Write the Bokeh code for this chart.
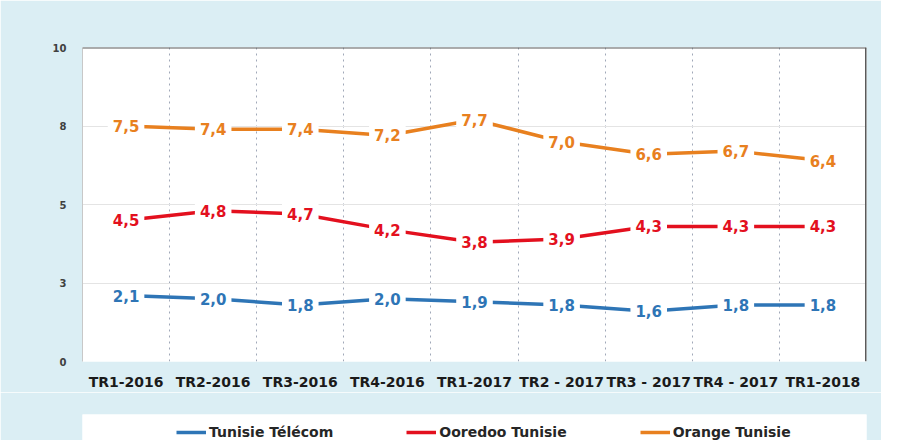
from bokeh.plotting import figure
from bokeh.layouts import column
from bokeh.models import (ColumnDataSource, FixedTicker, Span, Legend,
                          LegendItem, Range1d)
from bokeh.core.properties import value
from bokeh.embed import file_html
from bokeh.resources import INLINE

categories = ["TR1-2016", "TR2-2016", "TR3-2016", "TR4-2016", "TR1-2017",
              "TR2 - 2017", "TR3 - 2017", "TR4 - 2017", "TR1-2018"]
tunisie_telecom = [2.1, 2.0, 1.8, 2.0, 1.9, 1.8, 1.6, 1.8, 1.8]
ooredoo_tunisie = [4.5, 4.8, 4.7, 4.2, 3.8, 3.9, 4.3, 4.3, 4.3]
orange_tunisie = [7.5, 7.4, 7.4, 7.2, 7.7, 7.0, 6.6, 6.7, 6.4]
series_names = ["Tunisie Télécom", "Ooredoo Tunisie", "Orange Tunisie"]
series_colors = ["#2e75b6", "#e3101e", "#e8801f"]
y_ticks = [0, 2.5, 5, 7.5, 10]
y_tick_labels = ["0", "3", "5", "8", "10"]

FONT = "DejaVu Sans"
BG = "#dbeef4"

xs = list(range(len(categories)))

p = figure(frame_width=784, frame_height=314, output_backend="svg",
           toolbar_location=None, x_range=Range1d(-0.5, len(categories) - 0.5),
           y_range=Range1d(0, 10))
p.min_border_left = 82
p.min_border_right = 15
p.min_border_top = 47
p.min_border_bottom = 30
p.border_fill_color = BG
p.background_fill_color = "white"
p.outline_line_color = None

# axes
p.xaxis.ticker = FixedTicker(ticks=xs)
p.xaxis.major_label_overrides = {i: c for i, c in enumerate(categories)}
p.xaxis.axis_line_color = None
p.xaxis.major_tick_line_color = None
p.xaxis.minor_tick_line_color = None
p.xaxis.major_tick_in = 0
p.xaxis.major_tick_out = 0
p.xaxis.major_label_standoff = 12
p.xaxis.major_label_text_font = FONT
p.xaxis.major_label_text_font_style = "bold"
p.xaxis.major_label_text_font_size = "14px"
p.xaxis.major_label_text_color = "#1a1a1a"

p.yaxis.ticker = FixedTicker(ticks=y_ticks)
p.yaxis.major_label_overrides = {t: l for t, l in zip(y_ticks, y_tick_labels)}
p.yaxis.axis_line_color = "#c8c8c8"
p.yaxis.major_tick_line_color = None
p.yaxis.minor_tick_line_color = None
p.yaxis.major_tick_in = 0
p.yaxis.major_tick_out = 0
p.yaxis.major_label_standoff = 16
p.yaxis.major_label_text_font = FONT
p.yaxis.major_label_text_font_style = "bold"
p.yaxis.major_label_text_font_size = "10px"
p.yaxis.major_label_text_color = "#404040"

# grids
p.ygrid.ticker = FixedTicker(ticks=y_ticks)
p.ygrid.grid_line_color = "#e4e4e4"
p.xgrid.ticker = FixedTicker(ticks=[i + 0.5 for i in xs[:-1]])
p.xgrid.grid_line_color = "#a0a8b8"
p.xgrid.grid_line_dash = "2 4"
p.xgrid.grid_line_width = 1

# top and right border
p.add_layout(Span(location=10, dimension="width", line_color="#5a5a5a", line_width=2))
p.add_layout(Span(location=len(categories) - 0.5, dimension="height",
                  line_color="#5a5a5a", line_width=3))

for vals, col in zip([tunisie_telecom, ooredoo_tunisie, orange_tunisie], series_colors):
    src = ColumnDataSource(dict(x=xs, y=vals,
                                lbl=[f"{v:.1f}".replace(".", ",") for v in vals]))
    p.line("x", "y", source=src, line_color=col, line_width=3.5)
    p.text("x", "y", text="lbl", source=src,
           text_align="center", text_baseline="middle",
           text_font=value(FONT), text_font_style="bold",
           text_font_size="15px", text_color=col,
           background_fill_color="white", padding=5)

# legend strip: its white frame is the legend box
lg = figure(frame_width=784, frame_height=26, output_backend="svg",
            toolbar_location=None, x_axis_type=None, y_axis_type=None,
            x_range=Range1d(0, 1), y_range=Range1d(0, 1))
lg.min_border_left = 82
lg.min_border_right = 15
lg.min_border_top = 22
lg.min_border_bottom = 0
lg.border_fill_color = BG
lg.background_fill_color = "white"
lg.outline_line_color = None
lg.xgrid.visible = False
lg.ygrid.visible = False

items = []
for name, col in zip(series_names, series_colors):
    # legend key only: a single undefined point, nothing is drawn in the strip
    r = lg.line(x=[float("nan")], y=[float("nan")], line_color=col, line_width=3.5)
    items.append(LegendItem(label=name, renderers=[r]))

legend = Legend(items=items, orientation="horizontal", location=(94, 0),
                label_text_font=FONT, label_text_font_style="bold",
                label_text_font_size="14px", label_text_color="#262626",
                glyph_width=30, glyph_height=14, label_height=14,
                label_width=100, label_standoff=3, spacing=73, padding=4,
                border_line_color=None, background_fill_alpha=0.0, margin=0)
lg.add_layout(legend, "center")

page = column(p, lg, spacing=0)
open("out.html", "w").write(file_html(page, INLINE))
